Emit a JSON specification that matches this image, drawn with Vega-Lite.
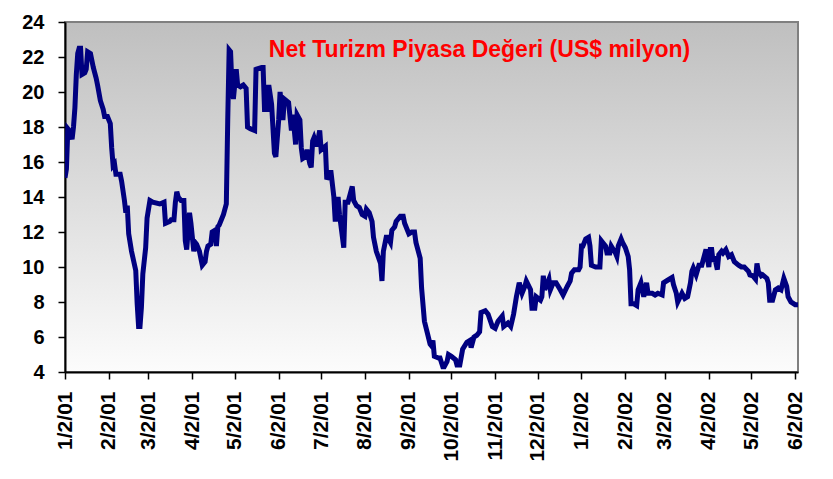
{
  "$schema": "https://vega.github.io/schema/vega-lite/v6.json",
  "width": 733,
  "height": 350,
  "autosize": {"type": "none"},
  "padding": {"left": 65, "top": 22, "right": 35, "bottom": 107},
  "background": "white",
  "title": {
    "text": "Net Turizm Piyasa Değeri (US$ milyon)",
    "font": "Liberation Sans",
    "fontSize": 23,
    "fontWeight": "bold",
    "color": "#ff0000",
    "anchor": "middle",
    "baseline": "alphabetic",
    "offset": -40,
    "dx": 48,
    "dy": 28
  },
  "config": {
    "view": {
      "stroke": "#808080",
      "strokeWidth": 2,
      "fill": {
        "gradient": "linear",
        "x1": 0, "y1": 0, "x2": 0, "y2": 1,
        "stops": [
          {"offset": 0, "color": "#bfbfbf"},
          {"offset": 1, "color": "#fcfcfc"}
        ]
      }
    },
    "axis": {
      "labelFont": "Liberation Sans",
      "labelFontWeight": "bold",
      "labelColor": "black",
      "domainColor": "black",
      "domainWidth": 2,
      "tickColor": "black",
      "tickWidth": 1.5,
      "tickSize": 7,
      "grid": false,
      "title": null
    }
  },
  "data": {"values": [
    {"d":"2001-01-02","v":15.1},{"d":"2001-01-03","v":15.6},{"d":"2001-01-04","v":17.9},{"d":"2001-01-05","v":17.8},
    {"d":"2001-01-07","v":17.3},{"d":"2001-01-08","v":18.0},{"d":"2001-01-09","v":19.1},{"d":"2001-01-10","v":21.0},
    {"d":"2001-01-11","v":22.2},{"d":"2001-01-12","v":22.5},{"d":"2001-01-13","v":22.5},{"d":"2001-01-14","v":21.0},
    {"d":"2001-01-16","v":21.1},{"d":"2001-01-17","v":21.3},{"d":"2001-01-18","v":22.3},{"d":"2001-01-20","v":22.2},
    {"d":"2001-01-22","v":21.4},{"d":"2001-01-24","v":20.8},{"d":"2001-01-25","v":20.4},{"d":"2001-01-27","v":19.5},
    {"d":"2001-01-29","v":19.0},{"d":"2001-01-30","v":18.6},{"d":"2001-02-01","v":18.6},{"d":"2001-02-03","v":18.2},
    {"d":"2001-02-04","v":16.8},{"d":"2001-02-05","v":15.8},{"d":"2001-02-06","v":15.9},{"d":"2001-02-07","v":15.3},
    {"d":"2001-02-10","v":15.3},{"d":"2001-02-11","v":14.9},{"d":"2001-02-13","v":13.8},{"d":"2001-02-14","v":13.1},
    {"d":"2001-02-15","v":13.5},{"d":"2001-02-16","v":11.9},{"d":"2001-02-18","v":10.9},{"d":"2001-02-21","v":9.8},
    {"d":"2001-02-22","v":7.9},{"d":"2001-02-23","v":6.6},{"d":"2001-02-24","v":6.6},{"d":"2001-02-25","v":7.7},
    {"d":"2001-02-26","v":9.6},{"d":"2001-02-28","v":11.1},{"d":"2001-03-01","v":12.8},{"d":"2001-03-03","v":13.8},
    {"d":"2001-03-05","v":13.7},{"d":"2001-03-10","v":13.6},{"d":"2001-03-13","v":13.7},{"d":"2001-03-14","v":12.5},
    {"d":"2001-03-17","v":12.6},{"d":"2001-03-18","v":12.7},{"d":"2001-03-20","v":12.7},{"d":"2001-03-21","v":13.7},
    {"d":"2001-03-22","v":14.3},{"d":"2001-03-23","v":14.0},{"d":"2001-03-25","v":13.8},{"d":"2001-03-27","v":13.8},
    {"d":"2001-03-28","v":11.5},{"d":"2001-03-29","v":11.0},{"d":"2001-03-31","v":13.1},{"d":"2001-04-01","v":12.5},
    {"d":"2001-04-03","v":10.9},{"d":"2001-04-04","v":11.4},{"d":"2001-04-05","v":11.3},{"d":"2001-04-07","v":10.9},
    {"d":"2001-04-09","v":10.1},{"d":"2001-04-11","v":10.3},{"d":"2001-04-12","v":10.9},{"d":"2001-04-13","v":11.2},
    {"d":"2001-04-15","v":11.3},{"d":"2001-04-16","v":12.0},{"d":"2001-04-18","v":12.1},{"d":"2001-04-19","v":11.2},
    {"d":"2001-04-20","v":12.3},{"d":"2001-04-21","v":12.4},{"d":"2001-04-24","v":13.0},{"d":"2001-04-26","v":13.6},
    {"d":"2001-04-27","v":18.4},{"d":"2001-04-28","v":22.4},{"d":"2001-04-29","v":22.3},{"d":"2001-04-30","v":20.3},
    {"d":"2001-05-01","v":19.6},{"d":"2001-05-03","v":21.3},{"d":"2001-05-04","v":20.4},{"d":"2001-05-06","v":20.3},
    {"d":"2001-05-08","v":20.4},{"d":"2001-05-10","v":20.2},{"d":"2001-05-11","v":18.0},{"d":"2001-05-13","v":17.9},
    {"d":"2001-05-16","v":17.8},{"d":"2001-05-17","v":21.3},{"d":"2001-05-21","v":21.4},{"d":"2001-05-22","v":21.4},
    {"d":"2001-05-23","v":19.0},{"d":"2001-05-25","v":19.0},{"d":"2001-05-26","v":20.4},{"d":"2001-05-28","v":19.3},
    {"d":"2001-05-30","v":16.5},{"d":"2001-05-31","v":16.3},{"d":"2001-06-02","v":18.4},{"d":"2001-06-03","v":20.0},
    {"d":"2001-06-05","v":18.4},{"d":"2001-06-06","v":19.6},{"d":"2001-06-09","v":19.4},{"d":"2001-06-11","v":17.8},
    {"d":"2001-06-12","v":18.7},{"d":"2001-06-14","v":17.0},{"d":"2001-06-15","v":18.7},{"d":"2001-06-17","v":18.4},
    {"d":"2001-06-18","v":16.8},{"d":"2001-06-19","v":16.2},{"d":"2001-06-21","v":16.3},{"d":"2001-06-22","v":16.7},
    {"d":"2001-06-24","v":15.9},{"d":"2001-06-25","v":15.7},{"d":"2001-06-26","v":17.2},{"d":"2001-06-27","v":17.4},
    {"d":"2001-06-29","v":16.9},{"d":"2001-07-01","v":17.8},{"d":"2001-07-02","v":16.7},{"d":"2001-07-05","v":16.9},
    {"d":"2001-07-06","v":15.0},{"d":"2001-07-08","v":15.4},{"d":"2001-07-09","v":15.4},{"d":"2001-07-11","v":14.0},
    {"d":"2001-07-12","v":12.6},{"d":"2001-07-14","v":14.0},{"d":"2001-07-15","v":13.0},{"d":"2001-07-18","v":11.1},
    {"d":"2001-07-19","v":13.7},{"d":"2001-07-21","v":13.7},{"d":"2001-07-24","v":14.6},{"d":"2001-07-25","v":13.8},
    {"d":"2001-07-27","v":13.5},{"d":"2001-07-29","v":13.4},{"d":"2001-07-31","v":13.0},{"d":"2001-08-02","v":12.9},
    {"d":"2001-08-03","v":13.3},{"d":"2001-08-05","v":13.1},{"d":"2001-08-07","v":12.6},{"d":"2001-08-08","v":11.7},
    {"d":"2001-08-10","v":10.9},{"d":"2001-08-13","v":10.2},{"d":"2001-08-14","v":9.2},{"d":"2001-08-15","v":10.9},
    {"d":"2001-08-17","v":11.7},{"d":"2001-08-18","v":11.7},{"d":"2001-08-20","v":11.4},{"d":"2001-08-21","v":12.1},
    {"d":"2001-08-23","v":12.3},{"d":"2001-08-24","v":12.6},{"d":"2001-08-27","v":12.9},{"d":"2001-08-29","v":12.9},
    {"d":"2001-08-30","v":12.5},{"d":"2001-09-02","v":11.9},{"d":"2001-09-04","v":12.0},{"d":"2001-09-06","v":12.0},
    {"d":"2001-09-07","v":11.4},{"d":"2001-09-10","v":10.5},{"d":"2001-09-11","v":8.8},{"d":"2001-09-13","v":6.9},
    {"d":"2001-09-15","v":6.25},{"d":"2001-09-17","v":5.6},{"d":"2001-09-18","v":5.5},{"d":"2001-09-19","v":5.8},
    {"d":"2001-09-20","v":4.9},{"d":"2001-09-23","v":4.8},{"d":"2001-09-24","v":4.8},{"d":"2001-09-26","v":4.3},
    {"d":"2001-09-27","v":4.3},{"d":"2001-09-29","v":4.6},{"d":"2001-09-30","v":5.0},{"d":"2001-10-02","v":4.9},
    {"d":"2001-10-05","v":4.7},{"d":"2001-10-06","v":4.4},{"d":"2001-10-08","v":4.4},{"d":"2001-10-10","v":5.3},
    {"d":"2001-10-13","v":5.7},{"d":"2001-10-15","v":5.8},{"d":"2001-10-16","v":5.4},{"d":"2001-10-18","v":6.0},
    {"d":"2001-10-20","v":6.1},{"d":"2001-10-22","v":6.3},{"d":"2001-10-23","v":7.4},{"d":"2001-10-26","v":7.5},
    {"d":"2001-10-28","v":7.3},{"d":"2001-10-31","v":6.6},{"d":"2001-11-02","v":6.5},{"d":"2001-11-04","v":6.9},
    {"d":"2001-11-07","v":7.2},{"d":"2001-11-08","v":6.6},{"d":"2001-11-11","v":6.8},{"d":"2001-11-13","v":6.6},
    {"d":"2001-11-15","v":7.3},{"d":"2001-11-17","v":8.3},{"d":"2001-11-19","v":9.1},{"d":"2001-11-21","v":8.5},
    {"d":"2001-11-23","v":8.9},{"d":"2001-11-24","v":9.2},{"d":"2001-11-27","v":8.7},{"d":"2001-11-28","v":7.65},
    {"d":"2001-11-30","v":7.65},{"d":"2001-12-01","v":8.3},{"d":"2001-12-04","v":8.1},{"d":"2001-12-05","v":8.3},
    {"d":"2001-12-06","v":9.5},{"d":"2001-12-07","v":8.7},{"d":"2001-12-10","v":9.3},{"d":"2001-12-11","v":8.7},
    {"d":"2001-12-13","v":9.1},{"d":"2001-12-15","v":9.1},{"d":"2001-12-18","v":8.7},{"d":"2001-12-20","v":8.4},
    {"d":"2001-12-23","v":8.9},{"d":"2001-12-25","v":9.2},{"d":"2001-12-26","v":9.65},{"d":"2001-12-28","v":9.85},
    {"d":"2001-12-31","v":9.85},{"d":"2002-01-01","v":10.0},{"d":"2002-01-02","v":11.2},{"d":"2002-01-03","v":11.2},
    {"d":"2002-01-05","v":11.6},{"d":"2002-01-07","v":11.7},{"d":"2002-01-08","v":11.2},{"d":"2002-01-09","v":10.1},
    {"d":"2002-01-12","v":10.0},{"d":"2002-01-15","v":10.0},{"d":"2002-01-16","v":11.5},{"d":"2002-01-17","v":11.4},
    {"d":"2002-01-19","v":11.2},{"d":"2002-01-20","v":10.8},{"d":"2002-01-22","v":10.8},{"d":"2002-01-23","v":11.2},
    {"d":"2002-01-26","v":10.8},{"d":"2002-01-27","v":10.6},{"d":"2002-01-28","v":11.2},{"d":"2002-01-30","v":11.6},
    {"d":"2002-01-31","v":11.4},{"d":"2002-02-02","v":11.1},{"d":"2002-02-04","v":10.6},{"d":"2002-02-05","v":9.85},
    {"d":"2002-02-06","v":7.9},{"d":"2002-02-08","v":7.9},{"d":"2002-02-10","v":7.8},{"d":"2002-02-11","v":8.7},
    {"d":"2002-02-13","v":9.1},{"d":"2002-02-15","v":8.3},{"d":"2002-02-17","v":9.1},{"d":"2002-02-18","v":8.5},
    {"d":"2002-02-21","v":8.5},{"d":"2002-02-23","v":8.4},{"d":"2002-02-25","v":8.5},{"d":"2002-02-28","v":8.4},
    {"d":"2002-03-01","v":9.1},{"d":"2002-03-03","v":9.2},{"d":"2002-03-05","v":9.3},{"d":"2002-03-07","v":9.4},
    {"d":"2002-03-08","v":9.0},{"d":"2002-03-10","v":8.5},{"d":"2002-03-11","v":8.0},{"d":"2002-03-14","v":8.5},
    {"d":"2002-03-16","v":8.2},{"d":"2002-03-18","v":8.3},{"d":"2002-03-20","v":9.1},{"d":"2002-03-21","v":9.75},
    {"d":"2002-03-22","v":9.95},{"d":"2002-03-24","v":9.55},{"d":"2002-03-26","v":10.1},{"d":"2002-03-28","v":10.1},
    {"d":"2002-03-29","v":10.4},{"d":"2002-03-30","v":10.7},{"d":"2002-03-31","v":11.0},{"d":"2002-04-02","v":10.0},
    {"d":"2002-04-03","v":11.0},{"d":"2002-04-04","v":11.0},{"d":"2002-04-05","v":10.3},{"d":"2002-04-06","v":10.6},
    {"d":"2002-04-08","v":9.85},{"d":"2002-04-09","v":10.7},{"d":"2002-04-11","v":10.9},{"d":"2002-04-12","v":10.8},
    {"d":"2002-04-14","v":11.0},{"d":"2002-04-16","v":10.6},{"d":"2002-04-18","v":10.7},{"d":"2002-04-20","v":10.3},
    {"d":"2002-04-23","v":10.1},{"d":"2002-04-25","v":10.0},{"d":"2002-04-27","v":10.0},{"d":"2002-04-30","v":9.75},
    {"d":"2002-05-01","v":9.55},{"d":"2002-05-03","v":9.5},{"d":"2002-05-05","v":9.3},{"d":"2002-05-06","v":10.2},
    {"d":"2002-05-07","v":9.75},{"d":"2002-05-09","v":9.5},{"d":"2002-05-10","v":9.55},{"d":"2002-05-13","v":9.35},
    {"d":"2002-05-14","v":9.1},{"d":"2002-05-15","v":8.1},{"d":"2002-05-17","v":8.1},{"d":"2002-05-19","v":8.7},
    {"d":"2002-05-21","v":8.8},{"d":"2002-05-23","v":8.7},{"d":"2002-05-25","v":9.35},{"d":"2002-05-27","v":8.9},
    {"d":"2002-05-28","v":8.3},{"d":"2002-05-30","v":8.0},{"d":"2002-06-02","v":7.85},{"d":"2002-06-04","v":7.85}
  ]},
  "mark": {"type": "line", "color": "#000080", "strokeWidth": 5, "clip": true},
  "encoding": {
    "x": {
      "field": "d",
      "type": "temporal",
      "scale": {
        "type": "utc",
        "domain": [
          {"year": 2001, "month": 1, "date": 2, "utc": true},
          {"year": 2002, "month": 6, "date": 4, "utc": true}
        ],
        "nice": false
      },
      "axis": {
        "values": [
          {"year": 2001, "month": 1, "date": 2, "utc": true},
          {"year": 2001, "month": 2, "date": 2, "utc": true},
          {"year": 2001, "month": 3, "date": 2, "utc": true},
          {"year": 2001, "month": 4, "date": 2, "utc": true},
          {"year": 2001, "month": 5, "date": 2, "utc": true},
          {"year": 2001, "month": 6, "date": 2, "utc": true},
          {"year": 2001, "month": 7, "date": 2, "utc": true},
          {"year": 2001, "month": 8, "date": 2, "utc": true},
          {"year": 2001, "month": 9, "date": 2, "utc": true},
          {"year": 2001, "month": 10, "date": 2, "utc": true},
          {"year": 2001, "month": 11, "date": 2, "utc": true},
          {"year": 2001, "month": 12, "date": 2, "utc": true},
          {"year": 2002, "month": 1, "date": 2, "utc": true},
          {"year": 2002, "month": 2, "date": 2, "utc": true},
          {"year": 2002, "month": 3, "date": 2, "utc": true},
          {"year": 2002, "month": 4, "date": 2, "utc": true},
          {"year": 2002, "month": 5, "date": 2, "utc": true},
          {"year": 2002, "month": 6, "date": 2, "utc": true}
        ],
        "labelExpr": "utcFormat(datum.value, '%-m/%-d/%y')",
        "labelAngle": -90,
        "labelFontSize": 21,
        "labelPadding": 12,
        "labelOverlap": false,
        "labelFlush": false
      }
    },
    "y": {
      "field": "v",
      "type": "quantitative",
      "scale": {"domain": [4, 24], "nice": false, "zero": false},
      "axis": {
        "values": [4, 6, 8, 10, 12, 14, 16, 18, 20, 22, 24],
        "labelFontSize": 20,
        "labelPadding": 14,
        "labelOverlap": false,
        "labelFlush": false
      }
    }
  }
}
